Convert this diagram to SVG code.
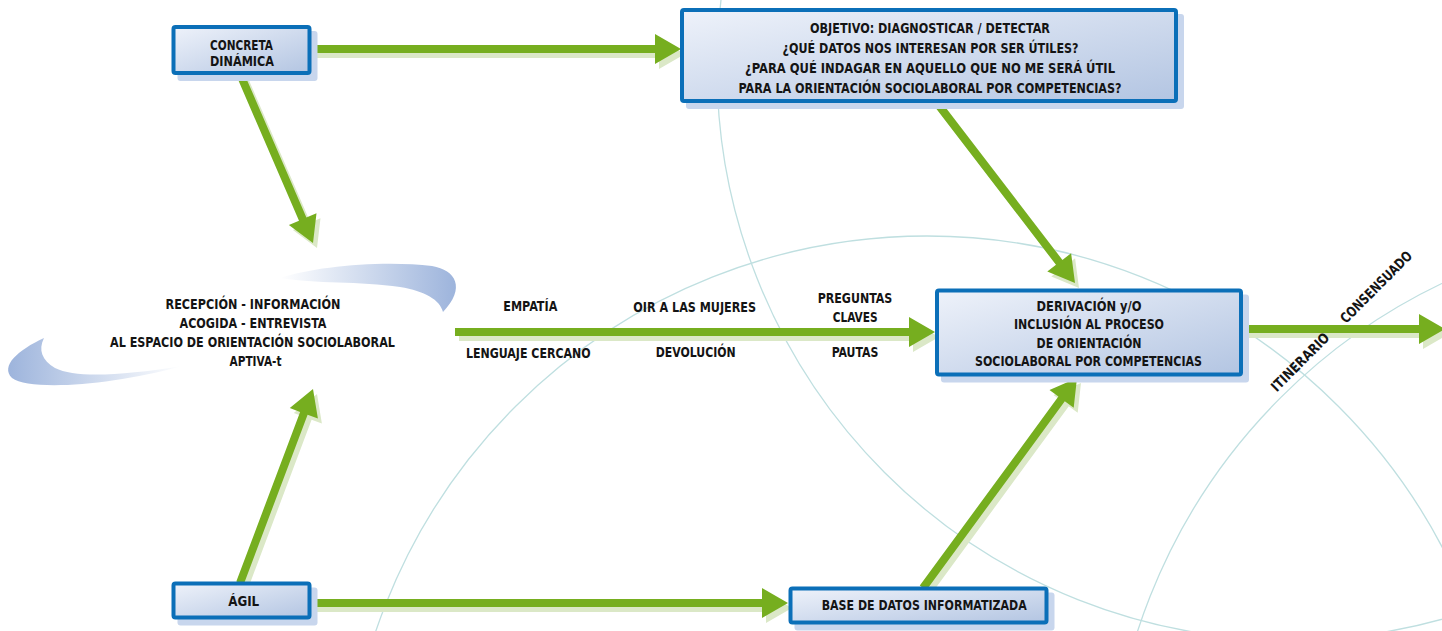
<svg xmlns="http://www.w3.org/2000/svg" xmlns:xlink="http://www.w3.org/1999/xlink" width="1442" height="631" viewBox="0 0 1442 631">
<defs>
<style>
.t{font-family:"DejaVu Sans Condensed","DejaVu Sans","Liberation Sans",sans-serif;font-weight:bold;font-size:14px;fill:#141414;text-anchor:middle}
.box{fill:url(#boxg);stroke:#0b6fb8;stroke-width:4}
.bsh{fill:#c8d6ed}
.arc{fill:none;stroke:#bfdfe0;stroke-width:1.3}
</style>
<linearGradient id="boxg" x1="0" y1="0" x2="1" y2="1">
<stop offset="0" stop-color="#eef2fa"/>
<stop offset="1" stop-color="#b3c5e2"/>
</linearGradient>
<linearGradient id="swR" x1="0" y1="0" x2="1" y2="0">
<stop offset="0" stop-color="#ffffff"/>
<stop offset="1" stop-color="#9db4dc"/>
</linearGradient>
<linearGradient id="swL" x1="0" y1="0" x2="1" y2="0">
<stop offset="0" stop-color="#9db4dc"/>
<stop offset="1" stop-color="#ffffff"/>
</linearGradient>
</defs>
<rect width="1442" height="631" fill="#ffffff"/>
<g id="background">
<circle class="arc" cx="1289" cy="68" r="572"/>
<circle class="arc" cx="927" cy="818" r="582"/>
<circle class="arc" cx="1695" cy="812" r="586"/>
</g>
<g id="recepcion">
<path d="M280,278 C315,266 385,260 432,266 C456,270 466,288 443,312 C440,300 425,291 400,287 C360,281 315,284 280,278 Z" fill="url(#swR)"/>
<path d="M44,338 C18,350 0,366 12,378 C30,391 110,386 182,366 C120,376 75,378 55,368 C42,360 38,350 44,338 Z" fill="url(#swL)"/>
<text class="t" x="253" y="309.3" textLength="175" lengthAdjust="spacingAndGlyphs">RECEPCIÓN - INFORMACIÓN</text>
<text class="t" x="253" y="328.3" textLength="147" lengthAdjust="spacingAndGlyphs">ACOGIDA - ENTREVISTA</text>
<text class="t" x="252.5" y="347.3" textLength="285" lengthAdjust="spacingAndGlyphs">AL ESPACIO DE ORIENTACIÓN SOCIOLABORAL</text>
<text class="t" x="255.5" y="366" textLength="52" lengthAdjust="spacingAndGlyphs">APTIVA-t</text>
</g>
<g id="connectors">
<g fill="#dbe8c7" transform="translate(4,5)">
<use xlink:href="#c1" href="#c1"/>
<use xlink:href="#c2" href="#c2"/>
<use xlink:href="#c3" href="#c3"/>
<use xlink:href="#c4" href="#c4"/>
<use xlink:href="#c5" href="#c5"/>
<use xlink:href="#c6" href="#c6"/>
<use xlink:href="#c7" href="#c7"/>
<use xlink:href="#c8" href="#c8"/>
</g>
<g fill="#76ae1f">
<path id="c1" d="M312,45 H655 V34 L681,49 L655,64 V53 H312 Z"/>
<path id="c2" d="M455,328 H909 V317 L935,332 L909,347 V336 H455 Z"/>
<path id="c3" d="M312,599 H762 V588 L788,603 L762,618 V607 H312 Z"/>
<path id="c4" d="M1244,325 H1419 V314 L1445,329 L1419,344 V333 H1244 Z"/>
<path id="c5" d="M236.3,75.6 L299,220.7 L288.9,225 L313,243 L316.5,213.2 L306.4,217.5 L243.7,72.4 Z"/>
<path id="c6" d="M243.7,584.4 L307.6,414.7 L317.9,418.6 L313,389 L289.8,408 L300.1,411.9 L236.3,581.6 Z"/>
<path id="c7" d="M933.8,105.4 L1056,264.8 L1047.3,271.5 L1075,283 L1071.1,253.2 L1062.4,260 L940.2,100.6 Z"/>
<path id="c8" d="M926.2,590.4 L1064.8,401.3 L1073.7,407.8 L1077,378 L1049.5,390.1 L1058.4,396.6 L919.8,585.6 Z"/>
</g>
<g id="connector-labels">
<text class="t" x="530.3" y="311" textLength="54" lengthAdjust="spacingAndGlyphs">EMPATÍA</text>
<text class="t" x="694.7" y="311.7" textLength="122.7" lengthAdjust="spacingAndGlyphs">OIR A LAS MUJERES</text>
<text class="t" x="855" y="303.3" textLength="74.7" lengthAdjust="spacingAndGlyphs">PREGUNTAS</text>
<text class="t" x="855.2" y="322.3" textLength="45" lengthAdjust="spacingAndGlyphs">CLAVES</text>
<text class="t" x="528.3" y="357.7" textLength="124.7" lengthAdjust="spacingAndGlyphs">LENGUAJE CERCANO</text>
<text class="t" x="695.7" y="357" textLength="80" lengthAdjust="spacingAndGlyphs">DEVOLUCIÓN</text>
<text class="t" x="855" y="357" textLength="46.7" lengthAdjust="spacingAndGlyphs">PAUTAS</text>
<text class="t" transform="translate(1300,362) rotate(-45)" x="0" y="5" textLength="76" lengthAdjust="spacingAndGlyphs">ITINERARIO</text>
<text class="t" transform="translate(1376,287) rotate(-45)" x="0" y="5" textLength="95" lengthAdjust="spacingAndGlyphs">CONSENSUADO</text>
</g>
</g>
<g id="concreta">
<rect class="bsh" x="177.5" y="31" width="140" height="50" rx="3"/>
<rect class="box" x="173.5" y="27" width="136" height="46" rx="2"/>
<text class="t" x="241.5" y="49.5" textLength="63" lengthAdjust="spacingAndGlyphs">CONCRETA</text>
<text class="t" x="242" y="65.5" textLength="64" lengthAdjust="spacingAndGlyphs">DINÁMICA</text>
</g>
<g id="objetivo">
<rect class="bsh" x="686" y="14" width="498" height="95" rx="3"/>
<rect class="box" x="682" y="10" width="494" height="91" rx="2"/>
<text class="t" x="930" y="33.3" textLength="240" lengthAdjust="spacingAndGlyphs">OBJETIVO: DIAGNOSTICAR / DETECTAR</text>
<text class="t" x="930.5" y="53" textLength="296" lengthAdjust="spacingAndGlyphs">¿QUÉ DATOS NOS INTERESAN POR SER ÚTILES?</text>
<text class="t" x="930" y="73" textLength="370" lengthAdjust="spacingAndGlyphs">¿PARA QUÉ INDAGAR EN AQUELLO QUE NO ME SERÁ  ÚTIL</text>
<text class="t" x="930" y="93" textLength="383" lengthAdjust="spacingAndGlyphs">PARA LA ORIENTACIÓN SOCIOLABORAL POR COMPETENCIAS?</text>
</g>
<g id="derivacion">
<rect class="bsh" x="941" y="294.5" width="308" height="88" rx="3"/>
<rect class="box" x="937" y="290.5" width="304" height="84" rx="2"/>
<text class="t" x="1089" y="310.7" textLength="105" lengthAdjust="spacingAndGlyphs">DERIVACIÓN y/O</text>
<text class="t" x="1089" y="329.2" textLength="150" lengthAdjust="spacingAndGlyphs">INCLUSIÓN AL PROCESO</text>
<text class="t" x="1089" y="347.6" textLength="105" lengthAdjust="spacingAndGlyphs">DE ORIENTACIÓN</text>
<text class="t" x="1088.5" y="366" textLength="227" lengthAdjust="spacingAndGlyphs">SOCIOLABORAL POR COMPETENCIAS</text>
</g>
<g id="agil">
<rect class="bsh" x="177.5" y="587.5" width="140" height="38" rx="3"/>
<rect class="box" x="173.5" y="583.5" width="136" height="34" rx="2"/>
<text class="t" x="243.7" y="606" textLength="31" lengthAdjust="spacingAndGlyphs">ÁGIL</text>
</g>
<g id="base-datos">
<rect class="bsh" x="794.5" y="592.5" width="260" height="38" rx="3"/>
<rect class="box" x="790.5" y="588.5" width="256" height="34" rx="2"/>
<text class="t" x="924.2" y="610" textLength="205" lengthAdjust="spacingAndGlyphs">BASE DE DATOS INFORMATIZADA</text>
</g>
</svg>
